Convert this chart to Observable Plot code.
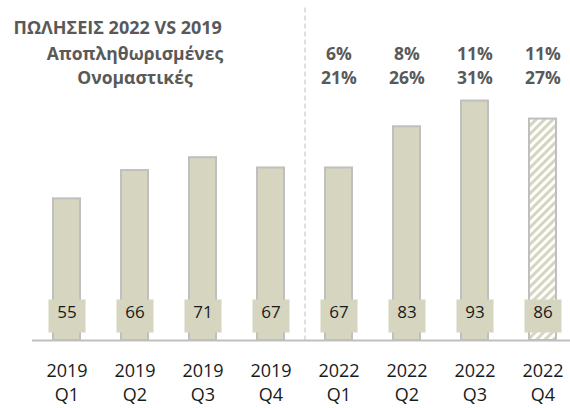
<!DOCTYPE html>
<html>
<head>
<meta charset="utf-8">
<script src="https://cdn.jsdelivr.net/npm/d3@7"></script>
<script src="https://cdn.jsdelivr.net/npm/@observablehq/plot@0.6"></script>
<style>
  html, body { margin: 0; padding: 0; background: #ffffff; overflow: hidden; }
</style>
</head>
<body>
<div id="chart"></div>
<script>
const title = "ΠΩΛΗΣΕΙΣ 2022 VS 2019";
const rowLabels = ["Αποπληθωρισμένες", "Ονομαστικές"];
const years = ["2019", "2019", "2019", "2019", "2022", "2022", "2022", "2022"];
const quarters = ["Q1", "Q2", "Q3", "Q4", "Q1", "Q2", "Q3", "Q4"];
const sales = [55, 66, 71, 67, 67, 83, 93, 86];
const realGrowth = [null, null, null, null, "6%", "8%", "11%", "11%"];
const nominalGrowth = [null, null, null, null, "21%", "26%", "31%", "27%"];
const forecast = [false, false, false, false, false, false, false, true];

const data = sales.map((v, i) => ({
  key: years[i] + " " + quarters[i],
  year: years[i],
  quarter: quarters[i],
  value: v,
  real: realGrowth[i],
  nominal: nominalGrowth[i],
  forecast: forecast[i]
}));
const keys = data.map(d => d.key);
const firstNew = data.find(d => d.year === "2022").key;

const fillColor = "#d6d5c0";
const strokeColor = "#bfbfbf";
const headColor = "#595959";
const textColor = "#1a1a1a";

const boxSymbol = {
  draw(context) {
    context.rect(-18.5, -16.5, 37, 33);
  }
};

const headFont = 17.5;

const chart = Plot.plot({
  width: 570,
  height: 408,
  marginLeft: 32,
  marginRight: 0,
  marginTop: 82.5,
  marginBottom: 68,
  style: { fontFamily: "'Open Sans', sans-serif", background: "#ffffff", overflow: "visible" },
  x: { type: "band", domain: keys, range: [32.5, 576.5], paddingInner: 0.603, paddingOuter: 0.3015, round: false, axis: null },
  y: { domain: [0, 100], axis: null },
  marks: [
    Plot.ruleX([firstNew], { x: d => d, dx: -34, stroke: strokeColor, strokeWidth: 1, strokeDasharray: "5,3", insetTop: -75, insetBottom: -3 }),
    Plot.barY(data.filter(d => !d.forecast), { x: "key", y: "value", fill: fillColor, stroke: strokeColor, strokeWidth: 2 }),
    Plot.barY(data.filter(d => d.forecast), { x: "key", y: "value", fill: "url(#hatch)", stroke: strokeColor, strokeWidth: 2 }),
    Plot.ruleY([0], { stroke: strokeColor, strokeWidth: 2 }),
    Plot.dot(data, { x: "key", frameAnchor: "bottom", dy: -24.5, symbol: boxSymbol, r: 10, fill: fillColor, stroke: "none" }),
    Plot.text(data, { x: "key", text: d => String(d.value), frameAnchor: "bottom", dy: -23, fontSize: 17, fill: textColor }),
    Plot.text(data, { x: "key", text: d => d.year + "\n" + d.quarter, frameAnchor: "bottom", lineAnchor: "top", dy: 19, fontSize: 18, lineHeight: 1.36, fill: textColor }),
    Plot.text(data.filter(d => d.real), { x: "key", text: "real", frameAnchor: "top", dy: -35, fontSize: headFont, fontWeight: "bold", fill: headColor }),
    Plot.text(data.filter(d => d.nominal), { x: "key", text: "nominal", frameAnchor: "top", dy: -11, fontSize: headFont, fontWeight: "bold", fill: headColor }),
    Plot.text([rowLabels[0]], { text: d => d, frameAnchor: "top-left", dx: 102.5, dy: -35, textAnchor: "middle", fontSize: headFont, fontWeight: "bold", fill: headColor }),
    Plot.text([rowLabels[1]], { text: d => d, frameAnchor: "top-left", dx: 102.5, dy: -11, textAnchor: "middle", fontSize: headFont, fontWeight: "bold", fill: headColor }),
    Plot.text([title], { text: d => d, frameAnchor: "top-left", dx: -19, dy: -62, textAnchor: "start", fontSize: 18, fontWeight: "bold", fill: headColor })
  ]
});

const ns = "http://www.w3.org/2000/svg";
const defs = document.createElementNS(ns, "defs");
const pattern = document.createElementNS(ns, "pattern");
pattern.setAttribute("id", "hatch");
pattern.setAttribute("patternUnits", "userSpaceOnUse");
pattern.setAttribute("width", "6");
pattern.setAttribute("height", "6");
pattern.setAttribute("patternTransform", "rotate(45)");
const bg = document.createElementNS(ns, "rect");
bg.setAttribute("width", "6");
bg.setAttribute("height", "6");
bg.setAttribute("fill", "#ffffff");
const stripe = document.createElementNS(ns, "rect");
stripe.setAttribute("width", "3");
stripe.setAttribute("height", "6");
stripe.setAttribute("fill", fillColor);
pattern.appendChild(bg);
pattern.appendChild(stripe);
defs.appendChild(pattern);
chart.insertBefore(defs, chart.firstChild);

document.getElementById("chart").appendChild(chart);
</script>
</body>
</html>
